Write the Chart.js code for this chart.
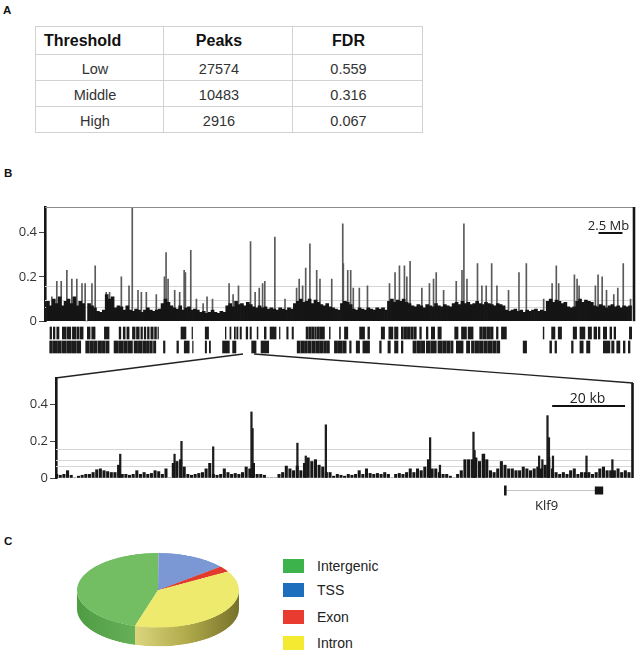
<!DOCTYPE html>
<html><head><meta charset="utf-8">
<script src="https://cdn.jsdelivr.net/npm/chart.js@4.4.1/dist/chart.umd.min.js"></script>
<style>
html,body{margin:0;padding:0;background:#fff;}
#root{position:relative;width:639px;height:656px;overflow:hidden;background:#fff;font-family:"Liberation Sans",Arial,sans-serif;}
.panel{position:absolute;font-weight:bold;font-size:11.5px;color:#111;line-height:1;}
canvas{display:block;}
.cv{position:absolute;}
#tbl{position:absolute;left:35px;top:26px;width:387px;border-collapse:collapse;table-layout:fixed;}
#tbl td{border:1px solid #d2d2d2;text-align:center;font-size:14.5px;color:#333;padding:3px 18px 0 0;line-height:1;}
#tbl tr{height:26px;}
#tbl tr.hd{height:28px;}
#tbl tr.hd td{font-weight:bold;font-size:16px;color:#111;padding-top:0;}
#tbl tr.hd td.first{text-align:left;padding-left:8px;}
#tbl td.c1{padding-right:9px;}
#legend{position:absolute;left:283px;top:559px;width:150px;height:95px;}
.li{position:absolute;left:0;height:16px;width:150px;}
.sw{position:absolute;left:0;top:0;width:21px;height:14px;}
.lt{position:absolute;left:34px;top:-1px;font-size:14px;color:#222;line-height:16px;white-space:nowrap;}
#pieWrap{position:absolute;left:75px;top:552px;width:166px;height:208px;transform:scaleY(0.46);transform-origin:0 0;}
</style></head>
<body>
<div id="root">
  <div class="panel" style="left:3px;top:5px;">A</div>
  <div class="panel" style="left:4px;top:168px;">B</div>
  <div class="panel" style="left:4px;top:536px;">C</div>
  <table id="tbl"></table>
  <svg class="cv" style="left:0;top:0" width="639" height="656">
    <line x1="243" y1="354" x2="55.5" y2="378" stroke="#222" stroke-width="1.3"/>
    <line x1="254" y1="354" x2="633" y2="383" stroke="#222" stroke-width="1.3"/>
  </svg>
  <div class="cv" style="left:0;top:195px;"><canvas id="chrom" width="639" height="136"></canvas></div>
  <div class="cv" style="left:0;top:324px;"><canvas id="peaks" width="639" height="32"></canvas></div>
  <div class="cv" style="left:0;top:366px;"><canvas id="zoomc" width="639" height="150"></canvas></div>
  <div id="pieWrap"><canvas id="pie" width="166" height="208"></canvas></div>
  <div id="legend"></div>
</div>
<script>
// ---------- Panel A: table data ----------
const tableHeader = ['Threshold', 'Peaks', 'FDR'];
const thresholdNames = ['Low', 'Middle', 'High'];
const peakCounts = [27574, 10483, 2916];
const fdrValues = ['0.559', '0.316', '0.067'];

// ---------- Panel B (top): chromosome-wide signal (mouse chr19, Mb) ----------
const chrLengthMb = 61.4;
const chromBinMb = 0.307;
const chromSignal = [
 0,
 0.09,0.07,0.1,0.08,0.11,0.07,0.09,0.1,0.08,0.11,0.07,0.09,0.08,
 0,
 0.08,0.07,0.06,
 0.045,0.04,0.05,
 0.12,0.1,0.11,
 0.06,0.07,0.065,0.05,0.07,
 0.05,0.045,0.055,0.05,0.04,0.05,0.06,0.05,0.045,0.05,0.055,
 0.08,0.1,0.085,0.07,
 0.06,0.055,0.07,0.05,0.06,0.065,0.05,0.055,0.05,
 0.04,0.045,0.035,0.04,0.05,0.04,0.035,0.045,0.04,
 0.07,0.08,0.065,0.09,0.075,0.08,0.07,0.085,0.075,
 0.065,0.06,0.07,0.06,0.065,0.055,0.06,
 0.055,0.05,0.06,0.055,0.05,0.06,0.055,
 0.08,0.09,0.1,0.085,0.09,0.1,0.08,0.095,0.085,
 0.075,0.07,0.08,0.065,0.06,0.055,0.05,
 0.08,0.09,0.085,0.075,
 0.055,0.05,0.06,0.055,0.05,0.06,0.055,0.05,0.06,0.055,0.06,0.05,
 0.09,0.1,0.085,0.095,0.09,0.1,0.085,0.08,
 0.07,0.065,0.075,0.07,0.06,0.075,0.07,0.065,0.08,0.07,0.065,0.075,0.07,0.065,
 0.08,0.085,0.075,0.09,0.08,0.085,0.075,0.08,0.09,0.08,0.075,0.085,0.08,
 0.075,0.07,0.08,0.075,0.07,
 0.05,0.045,0.05,0.055,0.045,0.05,0.04,0.05,0.045,0.05,0.055,0.045,0.05,0.045,
 0.09,0.1,0.085,0.095,0.09,0.08,0.085,
 0.065,0.06,0.065,
 0.09,0.1,0.085,0.095,0.09,0.085,
 0.07,0.065,0.075,0.07,0.06,0.07,0.075,0.065,0.07,0.06,0.07,0.065,0.07
];
const chromSpikePos = [0.66,1.18,1.64,2.23,2.75,3.27,3.81,4.14,4.85,5.19,6.34,6.69,7.92,8.72,9.06,9.66,10.01,10.53,11.57,12.42,12.59,12.8,13.49,14.01,14.48,14.61,15.17,15.76,16.46,16.87,17.44,19.17,19.59,20.15,21.41,21.89,22.32,22.67,22.9,23.95,25.01,26.22,26.49,26.85,27.17,27.61,28.32,28.66,29.89,31.04,31.1,31.56,31.87,32.14,32.77,33.62,35.92,36.5,36.96,37.48,37.73,38.07,39.3,40.09,40.52,40.8,41.57,42.89,43.49,43.69,44.01,45.11,45.57,46.02,46.59,47.14,48.35,49.44,50.21,52.02,52.9,53.34,53.59,55.23,55.51,55.72,57.42,57.7,58.13,58.58,59.34,59.76,60.33,61.09];
const chromSpikeVal = [0.11,0.18,0.18,0.23,0.19,0.19,0.17,0.17,0.17,0.25,0.13,0.13,0.2,0.16,0.51,0.14,0.13,0.13,0.12,0.2,0.31,0.19,0.14,0.13,0.23,0.22,0.32,0.1,0.08,0.11,0.1,0.17,0.12,0.16,0.36,0.13,0.15,0.17,0.18,0.38,0.1,0.15,0.19,0.16,0.24,0.35,0.23,0.19,0.19,0.44,0.26,0.23,0.23,0.15,0.15,0.16,0.17,0.22,0.25,0.25,0.2,0.27,0.15,0.17,0.19,0.22,0.14,0.18,0.23,0.44,0.19,0.26,0.16,0.16,0.26,0.16,0.14,0.22,0.26,0.1,0.17,0.25,0.17,0.21,0.19,0.16,0.16,0.21,0.2,0.14,0.12,0.15,0.26,0.1];
const thresholds = [0.157, 0.097, 0.065];
const signalTicks = [0, 0.2, 0.4];
const chromScaleBarMb = [57.8, 60.3];
const chromScaleLabel = '2.5 Mb';

// peak calls (two rows of intervals, Mb)
const peakRow1 = [[0.52,0.69],[0.87,1.04],[1.23,1.46],[1.81,2.16],[2.27,2.69],[2.86,3.21],[3.32,3.56],[3.67,3.98],[4.42,4.71],[4.88,5.23],[6.2,6.69],[7.74,7.92],[8.17,8.37],[8.55,8.78],[9.13,9.41],[9.55,9.84],[10.01,10.18],[10.36,10.53],[10.7,10.88],[11.05,11.3],[11.44,11.64],[11.79,11.85],[14.2,14.72],[15.35,15.41],[16.73,17.08],[18.83,18.9],[19.31,19.42],[19.77,19.88],[20.02,20.15],[20.37,20.51],[21.0,21.17],[21.41,21.55],[22.15,22.24],[22.9,23.09],[23.5,24.13],[24.48,24.54],[25.24,25.39],[25.8,25.94],[27.26,27.48],[27.55,27.78],[27.84,28.09],[28.17,28.32],[28.4,28.66],[28.72,29.18],[29.7,29.78],[30.75,30.85],[31.27,31.62],[32.85,33.37],[33.71,33.89],[35.11,35.46],[35.9,36.33],[36.5,36.86],[37.21,37.42],[37.5,37.76],[37.84,38.14],[38.22,38.45],[38.53,38.77],[39.13,39.3],[39.82,39.99],[40.34,40.69],[41.03,41.38],[42.78,43.13],[43.49,44.01],[44.18,44.7],[45.39,45.67],[45.74,46.05],[46.13,46.43],[46.51,46.79],[47.14,47.31],[47.66,48.18],[52.02,52.1],[52.9,53.25],[53.59,53.94],[55.15,55.51],[55.86,56.38],[56.72,57.07],[57.32,57.61],[57.78,57.95],[58.3,58.65],[58.99,59.17],[59.42,59.59],[61.02,61.26]];
const peakRow2 = [[0.49,0.77],[0.84,1.23],[1.3,1.69],[1.77,2.23],[2.3,2.69],[2.76,3.22],[3.3,3.73],[4.25,4.61],[4.68,5.07],[5.14,5.45],[5.56,5.91],[5.99,6.29],[6.37,6.69],[7.21,7.6],[7.68,8.14],[8.21,8.6],[8.67,9.13],[9.3,9.67],[9.75,10.13],[10.21,10.51],[10.59,10.9],[10.98,11.21],[11.33,11.57],[12.37,12.53],[13.77,13.94],[14.54,15.06],[15.41,15.47],[16.73,16.87],[17.16,17.28],[18.54,19.25],[19.59,19.94],[21.58,22.04],[22.56,23.36],[26.33,26.63],[26.71,27.02],[27.09,27.4],[27.48,27.78],[27.86,28.24],[28.32,28.66],[28.7,29.01],[29.09,29.4],[29.47,29.7],[30.22,30.55],[30.62,31.01],[31.08,31.45],[31.81,31.97],[32.5,32.85],[33.19,33.89],[34.94,35.11],[35.81,36.06],[36.5,36.86],[37.21,37.38],[38.42,38.76],[38.84,39.22],[39.3,39.65],[39.82,40.22],[40.29,40.86],[41.03,41.45],[41.52,41.91],[41.98,42.29],[42.37,42.61],[42.95,43.66],[44.01,44.35],[44.53,44.82],[44.9,45.28],[45.36,45.74],[45.82,46.2],[46.28,46.66],[46.74,47.12],[47.2,47.49],[49.93,50.29],[52.71,52.9],[53.25,53.42],[54.98,55.15],[55.86,56.2],[56.55,56.9],[58.3,58.99],[59.17,59.42],[59.7,60.03],[60.39,60.57],[60.91,61.09]];

// ---------- Panel B (bottom): Klf9 locus, kb ----------
const regionKb = 158;
const regionBinKb = 1;
const klf9Signal = [
 0.02,0.015,0.02,0.04,0.015,0,0.01,0.015,0.02,0.02,
 0.03,0.045,0.05,0.04,0.035,0.03,0.03,0.07,0.02,0.02,
 0.015,0.02,0.04,0.02,0.03,0.02,0.025,0.04,0.035,0.02,
 0.05,0,0.08,0.09,0.1,0.06,0.02,0.015,0.02,0.025,
 0.03,0.05,0.08,0.02,0.015,0.02,0.05,0.03,0.02,0.025,
 0.02,0.03,0.06,0.05,0.08,0.02,0.02,0.015,0,0,
 0,0.02,0.03,0.065,0.05,0.04,0.065,0.04,0.08,0.11,
 0.09,0.1,0.07,0.06,0.03,0.03,0.01,0.02,0.015,0.01,
 0.02,0.015,0.02,0.04,0.02,0.05,0.025,0.02,0.025,0.02,
 0.03,0.02,0,0.02,0.025,0.02,0.03,0.05,0.03,0.05,
 0.04,0.06,0.1,0.05,0.05,0.03,0.02,0.02,0.01,0,
 0.02,0.04,0.1,0.1,0.1,0.11,0.09,0.13,0.1,0.04,
 0.03,0.05,0.09,0.07,0.05,0.05,0.04,0.04,0.06,0.05,
 0.04,0.05,0.06,0.05,0.07,0.11,0.05,0.03,0.02,0.03,
 0.02,0.04,0.05,0.02,0.03,0.03,0.03,0.02,0.03,0.05,
 0.06,0.04,0.04,0.04,0.05,0.03,0.04,0.03
];
const klf9SpikePos = [17.4,32.3,34.2,42.9,53.4,53.7,66.0,68.3,73.8,102.4,105.1,114.3,114.6,117.2,132.3,133.2,134.6,135.0,136.1,145.3,152.4];
const klf9SpikeVal = [0.13,0.13,0.2,0.17,0.36,0.27,0.19,0.12,0.29,0.22,0.07,0.25,0.15,0.13,0.12,0.1,0.34,0.22,0.12,0.12,0.1];
const regionScaleBarKb = [136.1, 156.1];
const regionScaleLabel = '20 kb';
const geneName = 'Klf9';
const geneSpan = [122.9, 150.1];
const geneBlocks = [[122.9, 123.6], [147.8, 150.1]];

// ---------- Panel C: genomic distribution ----------
const pieLabels = ['Intergenic', 'TSS', 'Exon', 'Intron'];
const pieValues = [45.5, 14, 2.5, 38];
const pieTopColors = ['#73be62', '#7b98d4', '#e33a2e', '#eeea6e'];
const legendColors = ['#3cb44b', '#1e6ebe', '#ea3b31', '#f3ea31'];

// ---------- build table ----------
(function(){
  const t = document.getElementById('tbl');
  let h = '<colgroup><col style="width:128px"><col style="width:129px"><col style="width:130px"></colgroup>';
  h += '<tr class="hd">' + tableHeader.map((s,i)=>'<td class="'+(i===0?'first':'')+'">'+s+'</td>').join('') + '</tr>';
  thresholdNames.forEach((n,i)=>{
    h += '<tr><td class="c1">'+n+'</td><td>'+peakCounts[i]+'</td><td>'+fdrValues[i]+'</td></tr>';
  });
  t.innerHTML = h;
})();

Chart.defaults.font.family = "'Open Sans', 'DejaVu Sans', sans-serif";
Chart.defaults.animation = false;

function yAxis(max, width) {
  return {
    position: 'left', min: 0, max: max,
    afterBuildTicks: s => { s.ticks = signalTicks.map(v => ({value: v})); },
    afterFit: s => { s.width = width; },
    ticks: { font: {size: 13}, color: '#333', padding: 2, callback: v => v === 0 ? '0' : v.toFixed(1) },
    grid: { drawOnChartArea: false, drawTicks: true, tickLength: 6, color: '#444', lineWidth: 1 },
    border: { display: true, width: 2.6, color: '#161616' }
  };
}
function xAxis(max) {
  return { type: 'linear', min: 0, max: max, offset: false, display: false, grid: {offset: false} };
}

function drawThresholds(chart) {
  const {ctx, chartArea: a, scales: {y}} = chart;
  ctx.save();
  ctx.strokeStyle = '#d6d6d6'; ctx.lineWidth = 1;
  thresholds.forEach(v => {
    const py = Math.round(y.getPixelForValue(v)) + 0.5;
    ctx.beginPath(); ctx.moveTo(a.left, py); ctx.lineTo(a.right, py); ctx.stroke();
  });
  ctx.restore();
}

// ---------- top chromosome chart ----------
new Chart(document.getElementById('chrom'), {
  type: 'bar',
  data: { datasets: [
    { data: chromSignal.map((v,i) => ({x: (i + 0.5) * chromBinMb, y: v})), backgroundColor: '#151515', barThickness: 3, borderWidth: 0, xAxisID: 'x' },
    { data: chromSpikePos.map((p,i) => ({x: p, y: chromSpikeVal[i]})), backgroundColor: '#5a5a5a', barThickness: 1, borderWidth: 0, xAxisID: 'x2' }
  ]},
  options: {
    responsive: false, devicePixelRatio: 1, events: [],
    layout: { padding: {top: 12, bottom: 8, left: 0, right: 6} },
    plugins: { legend: {display: false}, tooltip: {enabled: false} },
    scales: { x: xAxis(chrLengthMb), x2: xAxis(chrLengthMb), y: yAxis(0.516, 45) }
  },
  plugins: [{
    id: 'chromFrame',
    beforeDatasetsDraw: drawThresholds,
    afterDatasetsDraw(chart) {
      const {ctx, chartArea: a, scales: {x}} = chart;
      ctx.save();
      ctx.strokeStyle = '#8c8c8c'; ctx.lineWidth = 1;
      ctx.beginPath(); ctx.moveTo(a.left, a.top + 0.5); ctx.lineTo(a.right + 2, a.top + 0.5); ctx.stroke();
      ctx.strokeStyle = '#161616'; ctx.lineWidth = 2.6;
      ctx.beginPath(); ctx.moveTo(a.right + 1, a.top); ctx.lineTo(a.right + 1, a.bottom); ctx.stroke();
      const x0 = x.getPixelForValue(chromScaleBarMb[0]), x1 = x.getPixelForValue(chromScaleBarMb[1]);
      ctx.lineWidth = 2; ctx.strokeStyle = '#111';
      ctx.beginPath(); ctx.moveTo(x0, a.top + 26); ctx.lineTo(x1, a.top + 26); ctx.stroke();
      ctx.fillStyle = '#222'; ctx.font = "13px 'Open Sans'"; ctx.textAlign = 'center'; ctx.textBaseline = 'alphabetic';
      ctx.fillText(chromScaleLabel, (x0 + x1) / 2 - 2, a.top + 23);
      ctx.restore();
    }
  }]
});

// ---------- peak call rows ----------
const peakRowsLabels = ['row1', 'row2'];
new Chart(document.getElementById('peaks'), {
  type: 'bar',
  data: { labels: peakRowsLabels, datasets: [{
    data: peakRow1.map(s => ({x: s, y: 'row1'})).concat(peakRow2.map(s => ({x: s, y: 'row2'}))),
    backgroundColor: '#1c1c1c', borderWidth: 0, barThickness: 12, borderSkipped: false
  }]},
  options: {
    indexAxis: 'y', responsive: false, devicePixelRatio: 1, events: [],
    layout: { padding: {top: 2, bottom: 2, left: 45, right: 6} },
    plugins: { legend: {display: false}, tooltip: {enabled: false} },
    scales: {
      x: xAxis(chrLengthMb),
      y: { type: 'category', display: false }
    }
  }
});

// ---------- zoomed locus chart ----------
new Chart(document.getElementById('zoomc'), {
  type: 'bar',
  data: { datasets: [
    { data: klf9Signal.map((v,i) => ({x: (i + 0.5) * regionBinKb, y: v})), backgroundColor: '#171717', barThickness: 2.4, borderWidth: 0, xAxisID: 'x' },
    { data: klf9SpikePos.map((p,i) => ({x: p, y: klf9SpikeVal[i]})), backgroundColor: '#1e1e1e', barThickness: 1.6, borderWidth: 0, xAxisID: 'x2' }
  ]},
  options: {
    responsive: false, devicePixelRatio: 1, events: [],
    layout: { padding: {top: 12, bottom: 38, left: 0, right: 7} },
    plugins: { legend: {display: false}, tooltip: {enabled: false} },
    scales: { x: xAxis(regionKb), x2: xAxis(regionKb), y: yAxis(0.545, 56) }
  },
  plugins: [{
    id: 'locusFrame',
    beforeDatasetsDraw: drawThresholds,
    afterDatasetsDraw(chart) {
      const {ctx, chartArea: a, scales: {x}} = chart;
      ctx.save();
      ctx.strokeStyle = '#161616'; ctx.lineWidth = 2.6;
      ctx.beginPath(); ctx.moveTo(a.right + 0.5, a.top + 5); ctx.lineTo(a.right + 0.5, a.bottom); ctx.stroke();
      const x0 = x.getPixelForValue(regionScaleBarKb[0]), x1 = x.getPixelForValue(regionScaleBarKb[1]);
      ctx.lineWidth = 2; ctx.strokeStyle = '#111';
      ctx.beginPath(); ctx.moveTo(x0, a.top + 28); ctx.lineTo(x1, a.top + 28); ctx.stroke();
      ctx.fillStyle = '#222'; ctx.font = "14px 'Open Sans'"; ctx.textAlign = 'center'; ctx.textBaseline = 'alphabetic';
      ctx.fillText(regionScaleLabel, (x0 + x1) / 2 - 1, a.top + 25);
      const gy = a.bottom + 12.5;
      const g0 = x.getPixelForValue(geneSpan[0]), g1 = x.getPixelForValue(geneSpan[1]);
      ctx.strokeStyle = '#c4c4c4'; ctx.lineWidth = 1;
      ctx.beginPath(); ctx.moveTo(g0, gy); ctx.lineTo(g1, gy); ctx.stroke();
      ctx.fillStyle = '#151515';
      geneBlocks.forEach((b, i) => {
        const b0 = x.getPixelForValue(b[0]), b1 = x.getPixelForValue(b[1]);
        const hh = i === 0 ? 10 : 8;
        ctx.fillRect(b0, gy - hh / 2, Math.max(2.5, b1 - b0), hh);
      });
      ctx.fillStyle = '#222'; ctx.font = "13px 'Open Sans'"; ctx.textAlign = 'center'; ctx.textBaseline = 'middle';
      ctx.fillText(geneName, (g0 + g1) / 2 - 7, a.bottom + 28);
      ctx.restore();
    }
  }]
});

// ---------- 3D-looking pie ----------
const pieDepth = 41;
new Chart(document.getElementById('pie'), {
  type: 'pie',
  data: { labels: pieLabels, datasets: [{ data: pieValues, backgroundColor: pieTopColors, borderWidth: 0 }] },
  options: {
    responsive: false, devicePixelRatio: 1, events: [], rotation: 196.5,
    layout: { padding: {top: 2, left: 2, right: 2, bottom: 44} },
    plugins: { legend: {display: false}, tooltip: {enabled: false} }
  },
  plugins: [{
    id: 'pieSide',
    beforeDatasetsDraw(chart) {
      const ctx = chart.ctx;
      const meta = chart.getDatasetMeta(0);
      const TAU = Math.PI * 2;
      meta.data.forEach((arc, i) => {
        const p = arc.getProps(['x','y','startAngle','endAngle','outerRadius'], true);
        let fill;
        if (i === 0) {
          fill = ctx.createLinearGradient(p.x - p.outerRadius, 0, p.x + p.outerRadius, 0);
          fill.addColorStop(0, '#4f9c44'); fill.addColorStop(0.35, '#66b057'); fill.addColorStop(1, '#79c067');
        } else if (i === 3) {
          fill = ctx.createLinearGradient(p.x - 0.3 * p.outerRadius, 0, p.x + p.outerRadius, 0);
          fill.addColorStop(0, '#dcd67e'); fill.addColorStop(0.5, '#b1ab4c'); fill.addColorStop(1, '#77722a');
        } else {
          fill = ['#000', '#56719f', '#a52a22'][i];
        }
        for (let k = -2; k <= 2; k++) {
          const lo = Math.max(p.startAngle, TAU * k), hi = Math.min(p.endAngle, TAU * k + Math.PI);
          if (hi > lo) {
            ctx.beginPath();
            ctx.arc(p.x, p.y + pieDepth, p.outerRadius, lo, hi);
            ctx.arc(p.x, p.y, p.outerRadius, hi, lo, true);
            ctx.closePath();
            ctx.fillStyle = fill; ctx.fill();
          }
        }
      });
    }
  }]
});

// ---------- legend ----------
(function(){
  const lg = document.getElementById('legend');
  const tops = [0, 23.5, 51, 77];
  lg.innerHTML = pieLabels.map((l,i) =>
    '<div class="li" style="top:'+tops[i]+'px"><div class="sw" style="background:'+legendColors[i]+'"></div><div class="lt">'+l+'</div></div>').join('');
})();
</script>
</body></html>
